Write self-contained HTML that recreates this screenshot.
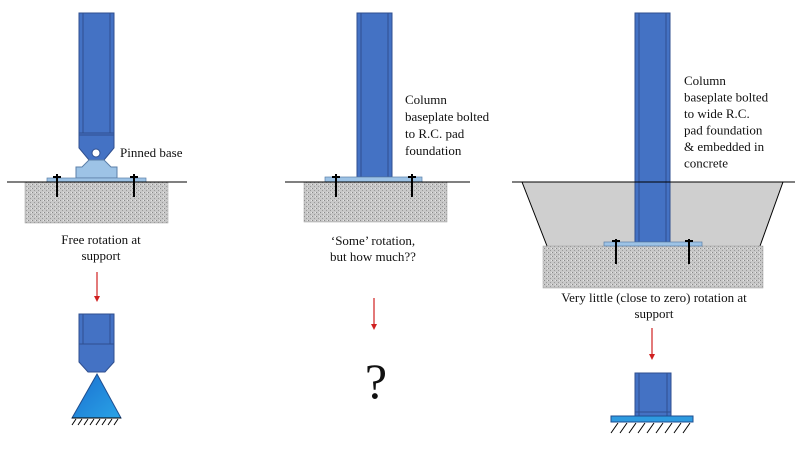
<!DOCTYPE html>
<html><head><meta charset="utf-8"><style>
html,body{margin:0;padding:0;background:#fff;}
svg{display:block;}
text{font-family:"Liberation Serif",serif;font-size:13px;fill:#111;}
</style></head><body>
<svg width="800" height="452" viewBox="0 0 800 452" xmlns="http://www.w3.org/2000/svg">
<defs>
<pattern id="conc" width="4" height="4" patternUnits="userSpaceOnUse">
<rect width="4" height="4" fill="#c8c8c8"/>
<rect x="0" y="0" width="1" height="1" fill="#8a8a8a"/>
<rect x="2" y="2" width="1" height="1" fill="#9a9a9a"/>
<rect x="3" y="0" width="1" height="1" fill="#e6e6e6"/>
</pattern>
<linearGradient id="tri" x1="0" x2="1" y1="0" y2="1"><stop offset="0" stop-color="#1a6fd0"/><stop offset="1" stop-color="#2aa3e6"/></linearGradient>
</defs>

<!-- LEFT -->
<rect x="25" y="182" width="143" height="41" fill="url(#conc)" stroke="#999" stroke-width="0.5"/>
<rect x="79" y="13" width="35" height="120" fill="#4472c4" stroke="#2f4f8f"/>
<line x1="83" y1="13" x2="83" y2="133" stroke="#2f4f8f"/>
<line x1="110" y1="13" x2="110" y2="133" stroke="#2f4f8f"/>
<path d="M79 133 H114 V148 L104 160 H89 L79 148 Z" fill="#4472c4" stroke="#2f4f8f"/>
<line x1="79" y1="135" x2="114" y2="135" stroke="#2f4f8f"/>
<path d="M89 160 L82 167 L76 167 V178 H117 V167 L111 167 L104 160 Z" fill="#9dc3e6" stroke="#5b7fa8"/>
<circle cx="96" cy="153" r="4" fill="#fff" stroke="#2f4f8f"/>
<rect x="47" y="178" width="99" height="4" fill="#9dc3e6" stroke="#5b7fa8" stroke-width="0.7"/>
<line x1="7" y1="182" x2="187" y2="182" stroke="#000"/>
<line x1="57" y1="174" x2="57" y2="197" stroke="#000" stroke-width="2"/>
<line x1="53" y1="177" x2="61" y2="177" stroke="#000" stroke-width="2"/>
<line x1="134" y1="174" x2="134" y2="197" stroke="#000" stroke-width="2"/>
<line x1="130" y1="177" x2="138" y2="177" stroke="#000" stroke-width="2"/>
<text x="120" y="157">Pinned base</text>
<text x="101" y="244" text-anchor="middle">Free rotation at</text>
<text x="101" y="260" text-anchor="middle">support</text>
<line x1="97" y1="272" x2="97" y2="298" stroke="#d02020" stroke-width="1.2"/>
<path d="M94 296 L97 302 L100 296 Z" fill="#d02020"/>
<rect x="79" y="314" width="35" height="30" fill="#4472c4" stroke="#2f4f8f"/>
<line x1="83" y1="314" x2="83" y2="344" stroke="#2f4f8f"/>
<line x1="110" y1="314" x2="110" y2="344" stroke="#2f4f8f"/>
<path d="M79 344 H114 V362 L105 372 H88 L79 362 Z" fill="#4472c4" stroke="#2f4f8f"/>
<path d="M97 374 L121 418 H72 Z" fill="url(#tri)" stroke="#1f4e8f"/>
<g stroke="#000" stroke-width="1">
<line x1="72" y1="418" x2="121" y2="418"/>
<path d="M76 419 l-4 6 M82 419 l-4 6 M88 419 l-4 6 M94 419 l-4 6 M100 419 l-4 6 M106 419 l-4 6 M112 419 l-4 6 M118 419 l-4 6"/>
</g>

<!-- MIDDLE -->
<rect x="304" y="182" width="143" height="40" fill="url(#conc)" stroke="#999" stroke-width="0.5"/>
<rect x="357" y="13" width="35" height="164" fill="#4472c4" stroke="#2f4f8f"/>
<line x1="361" y1="13" x2="361" y2="177" stroke="#2f4f8f"/>
<line x1="388" y1="13" x2="388" y2="177" stroke="#2f4f8f"/>
<rect x="325" y="177" width="97" height="5" fill="#9dc3e6" stroke="#5b7fa8" stroke-width="0.7"/>
<line x1="285" y1="182" x2="470" y2="182" stroke="#000"/>
<line x1="336" y1="174" x2="336" y2="197" stroke="#000" stroke-width="2"/>
<line x1="332" y1="177" x2="340" y2="177" stroke="#000" stroke-width="2"/>
<line x1="412" y1="174" x2="412" y2="197" stroke="#000" stroke-width="2"/>
<line x1="408" y1="177" x2="416" y2="177" stroke="#000" stroke-width="2"/>
<text x="405" y="104">Column</text>
<text x="405" y="121">baseplate bolted</text>
<text x="405" y="138">to R.C. pad</text>
<text x="405" y="155">foundation</text>
<text x="373" y="245" text-anchor="middle">‘Some’ rotation,</text>
<text x="373" y="261" text-anchor="middle">but how much??</text>
<line x1="374" y1="298" x2="374" y2="326" stroke="#d02020" stroke-width="1.2"/>
<path d="M371 324 L374 330 L377 324 Z" fill="#d02020"/>
<text x="376" y="398" text-anchor="middle" style="font-size:50px">?</text>

<!-- RIGHT -->
<path d="M522 182 H783 L760 246 H547 Z" fill="#cfcfcf" stroke="none"/>
<path d="M522 182 L547 246 M783 182 L760 246" stroke="#000" fill="none"/>
<rect x="543" y="246" width="220" height="42" fill="url(#conc)" stroke="#999" stroke-width="0.5"/>
<rect x="635" y="13" width="35" height="229" fill="#4472c4" stroke="#2f4f8f"/>
<line x1="639" y1="13" x2="639" y2="242" stroke="#2f4f8f"/>
<line x1="666" y1="13" x2="666" y2="242" stroke="#2f4f8f"/>
<rect x="604" y="242" width="98" height="4" fill="#9dc3e6" stroke="#5b7fa8" stroke-width="0.7"/>
<line x1="512" y1="182" x2="795" y2="182" stroke="#000"/>
<line x1="616" y1="239" x2="616" y2="264" stroke="#000" stroke-width="2"/>
<line x1="612" y1="241" x2="620" y2="241" stroke="#000" stroke-width="2"/>
<line x1="689" y1="239" x2="689" y2="264" stroke="#000" stroke-width="2"/>
<line x1="685" y1="241" x2="693" y2="241" stroke="#000" stroke-width="2"/>
<text x="684" y="85">Column</text>
<text x="684" y="101.5">baseplate bolted</text>
<text x="684" y="118">to wide R.C.</text>
<text x="684" y="134.5">pad foundation</text>
<text x="684" y="151">&amp; embedded in</text>
<text x="684" y="167.5">concrete</text>
<text x="654" y="302" text-anchor="middle">Very little (close to zero) rotation at</text>
<text x="654" y="318" text-anchor="middle">support</text>
<line x1="652" y1="328" x2="652" y2="356" stroke="#d02020" stroke-width="1.2"/>
<path d="M649 354 L652 360 L655 354 Z" fill="#d02020"/>
<rect x="635" y="373" width="36" height="43" fill="#4472c4" stroke="#2f4f8f"/>
<line x1="639" y1="373" x2="639" y2="416" stroke="#2f4f8f"/>
<line x1="667" y1="373" x2="667" y2="416" stroke="#2f4f8f"/>
<line x1="635" y1="412" x2="671" y2="412" stroke="#2f4f8f"/>
<rect x="611" y="416" width="82" height="6" fill="#2e9be0" stroke="#1f4e8f"/>
<path d="M618 423 l-7 10 M627 423 l-7 10 M636 423 l-7 10 M645 423 l-7 10 M654 423 l-7 10 M663 423 l-7 10 M672 423 l-7 10 M681 423 l-7 10 M690 423 l-7 10" stroke="#000"/>
</svg>
</body></html>
